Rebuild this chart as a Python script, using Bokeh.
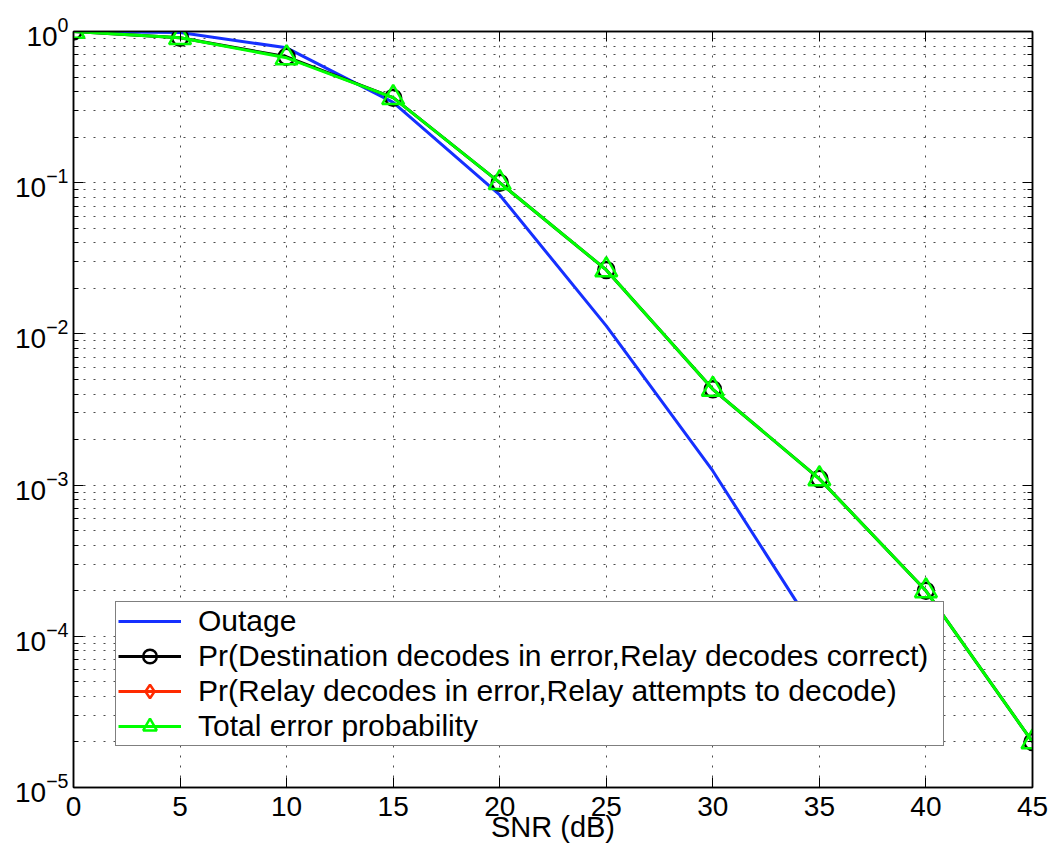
import numpy as np
from bokeh.plotting import figure
from bokeh.models import (FixedTicker, LogAxis, LinearAxis, Legend, LegendItem,
                          CustomJSTickFormatter)
from bokeh.embed import file_html
from bokeh.resources import INLINE

# --- data -------------------------------------------------------------
snr_db = [0, 5, 10, 15, 20, 25, 30, 35, 40, 45]
outage = [1.0, 0.985, 0.78, 0.34, 0.083, 0.0113, 0.00124, 9.8e-5, None, None]
pr_dest_err = [1.0, 0.91, 0.68, 0.365, 0.10, 0.0265, 0.0043, 0.0011, 2.0e-4, 2.0e-5]
pr_relay_err = [None, None, None, None, None, None, None, None, None, None]
total_err = [1.0, 0.91, 0.67, 0.365, 0.10, 0.0265, 0.0043, 0.0011, 2.0e-4, 2.0e-5]

x_ticks = [0, 5, 10, 15, 20, 25, 30, 35, 40, 45]
y_decades = [-5, -4, -3, -2, -1, 0]

x_title = "SNR (dB)"
labels = [
    "Outage",
    "Pr(Destination decodes in error,Relay decodes correct)",
    "Pr(Relay decodes in error,Relay attempts to decode)",
    "Total error probability",
]


def arr(v):
    return np.array([np.nan if a is None else a for a in v], dtype=float)


FONT = "Liberation Sans"

y_major = [10.0 ** e for e in y_decades]
y_minor = [k * 10.0 ** e for e in y_decades[:-1] for k in range(2, 10)]

p = figure(width=1050, height=846, y_axis_type="log",
           x_range=(0, 45), y_range=(1e-5, 1),
           output_backend="svg", toolbar_location=None,
           min_border_left=73, min_border_right=18,
           min_border_top=31, min_border_bottom=59)
p.background_fill_color = "white"
p.border_fill_color = "white"
p.outline_line_color = "black"
p.outline_line_width = 1.5

xt = FixedTicker(ticks=x_ticks)
yt = FixedTicker(ticks=y_major, minor_ticks=y_minor)

for ax in p.xaxis:
    ax.ticker = xt
for ax in p.yaxis:
    ax.ticker = yt
p.xgrid.ticker = xt
p.ygrid.ticker = yt


def style_axis(ax, show_labels):
    ax.axis_line_color = "black"
    ax.axis_line_width = 1.5
    ax.major_tick_in = 10
    ax.major_tick_out = 0
    ax.minor_tick_in = 5
    ax.minor_tick_out = 0
    ax.major_tick_line_color = "black"
    ax.minor_tick_line_color = "black"
    ax.major_tick_line_width = 1
    ax.minor_tick_line_width = 1
    ax.major_label_text_font = FONT
    ax.major_label_text_color = "black"
    ax.major_label_text_font_size = "28px"
    if not show_labels:
        ax.formatter = CustomJSTickFormatter(code="return ''")
        ax.major_label_standoff = 0


style_axis(p.xaxis[0], True)
style_axis(p.yaxis[0], True)
p.xaxis[0].major_label_standoff = 9
p.yaxis[0].major_label_standoff = 5

# x title sits tight under the tick labels, overlapping them slightly
p.xaxis[0].axis_label = x_title
p.xaxis[0].axis_label_text_font = FONT
p.xaxis[0].axis_label_text_font_size = "29px"
p.xaxis[0].axis_label_text_font_style = "normal"
p.xaxis[0].axis_label_text_color = "black"
p.xaxis[0].axis_label_standoff = -8

top_ax = LinearAxis(ticker=xt)
right_ax = LogAxis(ticker=yt)
style_axis(top_ax, False)
style_axis(right_ax, False)
p.add_layout(top_ax, "above")
p.add_layout(right_ax, "right")

# dotted grid, major and minor
for g in (p.xgrid, p.ygrid):
    g.grid_line_color = "black"
    g.grid_line_alpha = 0.7
    g.grid_line_dash = "2 8"
    g.grid_line_width = 1
p.ygrid.minor_grid_line_color = "black"
p.ygrid.minor_grid_line_alpha = 0.7
p.ygrid.minor_grid_line_dash = "2 8"
p.ygrid.minor_grid_line_width = 1

x = np.array(snr_db, dtype=float)

r_out = p.line(x, arr(outage), line_color="#1530ff", line_width=3)

r_dest_l = p.line(x, arr(pr_dest_err), line_color="black", line_width=3)
r_dest_m = p.scatter(x, arr(pr_dest_err), marker="circle", size=16,
                     line_color="black", line_width=2.5, fill_color=None)

r_rel_l = p.line(x, arr(pr_relay_err), line_color="#ff2a00", line_width=3)
r_rel_m = p.scatter(x, arr(pr_relay_err), marker="diamond", size=20,
                    line_color="#ff2a00", line_width=2.5, fill_color=None)

r_tot_l = p.line(x, arr(total_err), line_color="#00ff00", line_width=3)
r_tot_m = p.scatter(x, arr(total_err), marker="triangle", size=22,
                    line_color="#00ff00", line_width=2.5, fill_color=None)

legend = Legend(items=[
    LegendItem(label=labels[0], renderers=[r_out]),
    LegendItem(label=labels[1], renderers=[r_dest_l, r_dest_m]),
    LegendItem(label=labels[2], renderers=[r_rel_l, r_rel_m]),
    LegendItem(label=labels[3], renderers=[r_tot_l, r_tot_m]),
], location=(42, 41))
legend.label_text_font = FONT
legend.label_text_font_size = "30px"
legend.label_text_color = "black"
legend.glyph_width = 63
legend.glyph_height = 34
legend.label_height = 34
legend.label_width = 743
legend.label_standoff = 17
legend.spacing = 1
legend.padding = 2
legend.border_line_color = "black"
legend.border_line_width = 1.5
legend.background_fill_color = "white"
legend.background_fill_alpha = 1.0
p.add_layout(legend, "center")

open("out.html", "w").write(file_html(p, INLINE))
